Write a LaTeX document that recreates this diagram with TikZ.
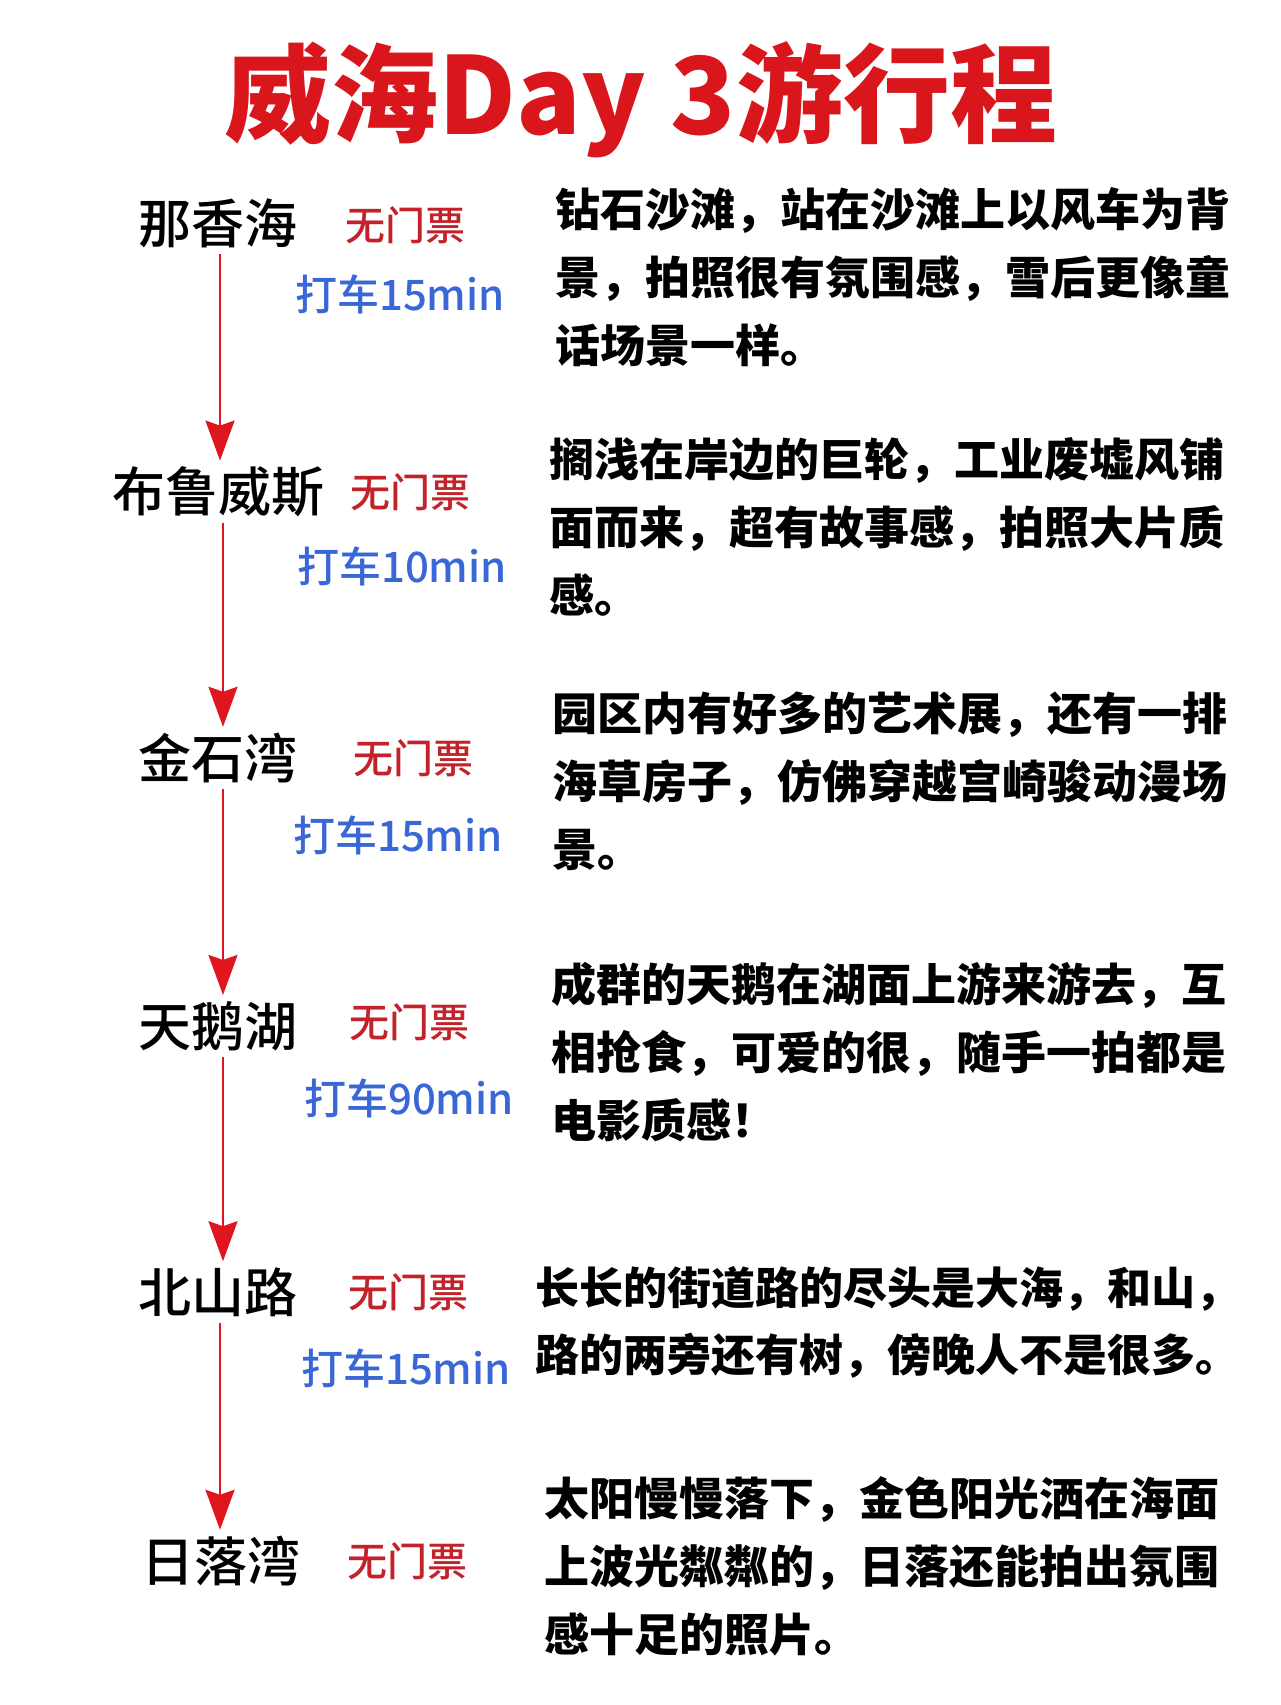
\documentclass[tikz,border=0pt]{standalone}
\usepackage{fontspec}
\setmainfont{Noto Sans CJK SC}
\newfontfamily\midfont{Noto Sans CJK SC Medium}
\usepackage{xcolor}
\definecolor{titlered}{HTML}{D8161C}
\definecolor{arrowred}{HTML}{E0161E}
\definecolor{ticketred}{HTML}{C3222A}
\definecolor{taxiblue}{HTML}{3A67D6}
\usepackage{tikz}
\usetikzlibrary{arrows.meta}

\begin{document}
\begin{tikzpicture}[x=1pt,y=-1pt,
    place/.style={inner sep=0pt,font=\fontsize{53}{53}\selectfont\midfont},
    ticket/.style={inner sep=0pt,text=ticketred,font=\fontsize{40}{40}\selectfont\midfont},
    taxi/.style={inner sep=0pt,text=taxiblue,font=\fontsize{42}{42}\selectfont\midfont},
    desc/.style={inner sep=0pt,anchor=west,align=left,font=\fontsize{45}{68}\selectfont\bfseries},
    route/.style={-{Stealth[length=40pt,width=29pt,inset=5pt]},arrowred,line width=2.6pt,shorten <=6pt,shorten >=6pt}]
  \useasboundingbox (0,0) rectangle (1280,1705);
  \node[text=titlered,font=\fontsize{107}{107}\selectfont\bfseries] (title) at (641,100) {威海Day 3游行程};
  % stops
  \node[place] (nxh) at (218,223) {那香海};
  \node[place] (blws) at (218,492) {布鲁威斯};
  \node[place] (jsw) at (218,758) {金石湾};
  \node[place] (teh) at (218,1026) {天鹅湖};
  \node[place] (bsl) at (218,1292) {北山路};
  \node[place] (rlw) at (221,1561) {日落湾};
  % tickets
  \node[ticket] (t1) at (405,225) {无门票};
  \node[ticket] (t2) at (410,492) {无门票};
  \node[ticket] (t3) at (413,758) {无门票};
  \node[ticket] (t4) at (409,1022) {无门票};
  \node[ticket] (t5) at (408,1292) {无门票};
  \node[ticket] (t6) at (407,1561) {无门票};
  % taxi times
  \node[taxi] (c1) at (400,294) {打车15min};
  \node[taxi] (c2) at (402,566) {打车10min};
  \node[taxi] (c3) at (398,835) {打车15min};
  \node[taxi] (c4) at (409,1098) {打车90min};
  \node[taxi] (c5) at (406,1368) {打车15min};
  % notes
  \node[desc] (d1) at (555,277) {钻石沙滩，站在沙滩上以风车为背\\景，拍照很有氛围感，雪后更像童\\话场景一样。};
  \node[desc] (d2) at (549,527) {搁浅在岸边的巨轮，工业废墟风铺\\面而来，超有故事感，拍照大片质\\感。};
  \node[desc] (d3) at (552,781) {园区内有好多的艺术展，还有一排\\海草房子，仿佛穿越宫崎骏动漫场\\景。};
  \node[desc] (d4) at (551,1052) {成群的天鹅在湖面上游来游去，互\\相抢食，可爱的很，随手一拍都是\\电影质感！};
  \node[desc,font=\fontsize{44}{67}\selectfont\bfseries] (d5) at (535,1322) {长长的街道路的尽头是大海，和山，\\路的两旁还有树，傍晚人不是很多。};
  \node[desc] (d6) at (544,1566) {太阳慢慢落下，金色阳光洒在海面\\上波光粼粼的，日落还能拍出氛围\\感十足的照片。};
  % route
  \draw[route] ([xshift=2pt]nxh.south) -- ([xshift=2pt]blws.north);
  \draw[route] ([xshift=5pt]blws.south) -- ([xshift=5pt]jsw.north);
  \draw[route] ([xshift=5pt]jsw.south) -- ([xshift=5pt]teh.north);
  \draw[route] ([xshift=5pt]teh.south) -- ([xshift=5pt]bsl.north);
  \draw[route] ([xshift=2pt]bsl.south) -- ([xshift=-1pt]rlw.north);
\end{tikzpicture}
\end{document}
